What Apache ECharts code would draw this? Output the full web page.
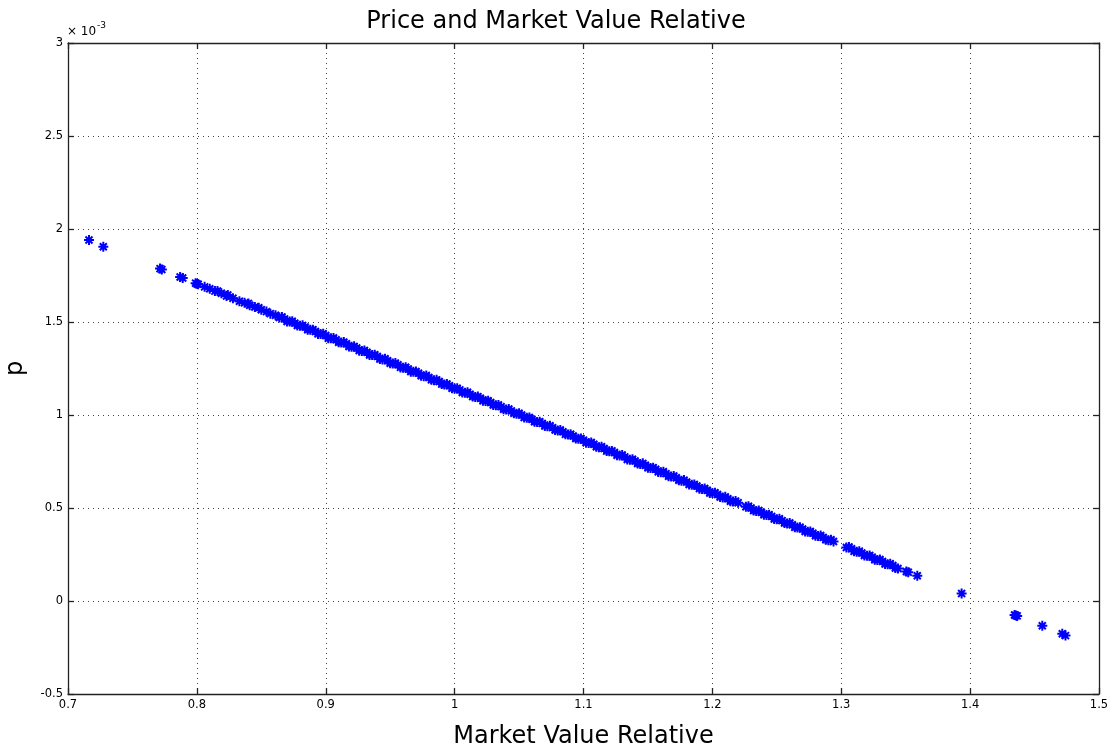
<!DOCTYPE html>
<html>
<head>
<meta charset="utf-8">
<title>Price and Market Value Relative</title>
<script src="https://cdn.jsdelivr.net/npm/echarts@6/dist/echarts.min.js"></script>
<style>
  html, body { margin: 0; padding: 0; background: #fff; }
  #chart { width: 1112px; height: 753px; }
</style>
</head>
<body>
<div id="chart"></div>
<script>
// Market value relative (x) and price p (in units of 1e-3)
const mvr = [
  0.7163, 0.7274, 0.7714, 0.7728, 0.787, 0.789, 0.799, 0.800, 0.801,
  0.806, 0.810, 0.814, 0.819, 0.823, 0.828, 0.833, 0.837, 0.841, 0.845,
  0.850, 0.854, 0.857, 0.861, 0.864, 0.868, 0.872, 0.876, 0.880, 0.884,
  0.888, 0.892, 0.896, 0.900, 0.904, 0.908, 0.912, 0.916, 0.920, 0.924,
  0.928, 0.932, 0.936, 0.940, 0.944, 0.948, 0.952, 0.956, 0.960, 0.964,
  0.968, 0.972, 0.976, 0.980, 0.984, 0.988, 0.992, 0.996, 1.000, 1.004,
  1.008, 1.012, 1.016, 1.020, 1.024, 1.028, 1.032, 1.036, 1.040, 1.044,
  1.048, 1.052, 1.056, 1.060, 1.064, 1.068, 1.072, 1.076, 1.080, 1.084,
  1.088, 1.092, 1.096, 1.100, 1.104, 1.108, 1.112, 1.116, 1.120, 1.124,
  1.128, 1.132, 1.136, 1.140, 1.144, 1.148, 1.152, 1.156, 1.160, 1.164,
  1.168, 1.172, 1.176, 1.180, 1.184, 1.188, 1.192, 1.196, 1.200, 1.204,
  1.208, 1.212, 1.216, 1.220, 1.226, 1.230, 1.234, 1.238, 1.242, 1.246,
  1.250, 1.254, 1.258, 1.262, 1.266, 1.270, 1.274, 1.278, 1.282, 1.286,
  1.290, 1.294, 1.304, 1.308, 1.312, 1.316, 1.320, 1.324, 1.328, 1.332,
  1.336, 1.340, 1.344, 1.3505, 1.352, 1.359,
  1.3934, 1.4345, 1.4355, 1.4365, 1.456, 1.4715, 1.474,
  // further observations inside the dense band
  0.816, 0.824, 0.840, 0.848,
  0.866, 0.870, 0.874, 0.878, 0.882, 0.886, 0.890, 0.894, 0.898, 0.902,
  0.906, 0.910, 0.914, 0.918, 0.922, 0.926, 0.930, 0.934, 0.938, 0.942,
  0.946, 0.950, 0.954, 0.958, 0.962, 0.966, 0.970, 0.974, 0.978, 0.982,
  0.986, 0.990, 0.994, 0.998, 1.002, 1.006, 1.010, 1.014, 1.018, 1.022,
  1.026, 1.030, 1.034, 1.038, 1.042, 1.046, 1.050, 1.054, 1.058, 1.062,
  1.066, 1.070, 1.074, 1.078, 1.082, 1.086, 1.090, 1.094, 1.098, 1.102,
  1.106, 1.110, 1.114, 1.118, 1.122, 1.126, 1.130, 1.134, 1.138, 1.142,
  1.146, 1.150, 1.154, 1.158, 1.162, 1.166, 1.170, 1.174, 1.178, 1.182,
  1.186, 1.190, 1.194, 1.198, 1.202, 1.206, 1.210, 1.214, 1.218,
  1.228, 1.232, 1.236, 1.240, 1.244, 1.248, 1.252, 1.256, 1.260, 1.264,
  1.268, 1.272, 1.276, 1.280, 1.284, 1.288, 1.292,
  1.306, 1.310, 1.314, 1.318, 1.322, 1.326, 1.330, 1.334, 1.338, 1.342
];
const price = [
  1.941, 1.905, 1.787, 1.782, 1.742, 1.737, 1.709, 1.705, 1.703,
  1.689, 1.679, 1.666, 1.655, 1.640, 1.628, 1.612, 1.603, 1.590, 1.581,
  1.566, 1.556, 1.545, 1.536, 1.524, 1.517, 1.503, 1.494, 1.480, 1.473,
  1.458, 1.449, 1.435, 1.427, 1.412, 1.405, 1.390, 1.383, 1.367, 1.360,
  1.344, 1.337, 1.322, 1.315, 1.299, 1.292, 1.277, 1.270, 1.254, 1.247,
  1.232, 1.225, 1.209, 1.202, 1.187, 1.180, 1.164, 1.157, 1.142, 1.135,
  1.120, 1.112, 1.097, 1.090, 1.075, 1.067, 1.052, 1.045, 1.030, 1.022,
  1.007, 1.000, 0.985, 0.977, 0.962, 0.955, 0.940, 0.932, 0.917, 0.910,
  0.895, 0.887, 0.872, 0.865, 0.850, 0.843, 0.827, 0.820, 0.805, 0.798,
  0.782, 0.775, 0.760, 0.753, 0.737, 0.730, 0.715, 0.708, 0.692, 0.685,
  0.670, 0.663, 0.647, 0.640, 0.625, 0.618, 0.602, 0.595, 0.580, 0.573,
  0.557, 0.550, 0.535, 0.528, 0.507, 0.500, 0.484, 0.477, 0.462, 0.455,
  0.439, 0.432, 0.417, 0.410, 0.395, 0.387, 0.372, 0.365, 0.350, 0.342,
  0.327, 0.320, 0.288, 0.281, 0.265, 0.258, 0.243, 0.236, 0.220, 0.213,
  0.198, 0.191, 0.175, 0.159, 0.155, 0.136,
  0.040, -0.075, -0.078, -0.080, -0.133, -0.176, -0.186,
  1.667, 1.645, 1.600, 1.577,
  1.527, 1.503, 1.504, 1.481, 1.482, 1.458, 1.459, 1.436, 1.437, 1.413,
  1.414, 1.391, 1.392, 1.368, 1.369, 1.346, 1.347, 1.323, 1.324, 1.301,
  1.302, 1.278, 1.279, 1.256, 1.257, 1.233, 1.234, 1.211, 1.212, 1.189,
  1.189, 1.166, 1.167, 1.144, 1.144, 1.121, 1.122, 1.099, 1.099, 1.076,
  1.077, 1.054, 1.054, 1.031, 1.032, 1.009, 1.009, 0.986, 0.987, 0.964,
  0.964, 0.941, 0.942, 0.919, 0.919, 0.896, 0.897, 0.874, 0.874, 0.851,
  0.852, 0.829, 0.829, 0.806, 0.807, 0.784, 0.785, 0.761, 0.762, 0.739,
  0.740, 0.716, 0.717, 0.694, 0.695, 0.671, 0.672, 0.649, 0.650, 0.626,
  0.627, 0.604, 0.605, 0.581, 0.582, 0.559, 0.560, 0.536, 0.537,
  0.509, 0.486, 0.487, 0.464, 0.464, 0.441, 0.442, 0.419, 0.419, 0.396,
  0.397, 0.374, 0.374, 0.351, 0.352, 0.329, 0.329,
  0.290, 0.267, 0.268, 0.244, 0.245, 0.222, 0.223, 0.199, 0.200, 0.177
];
const xTicks = [0.7, 0.8, 0.9, 1, 1.1, 1.2, 1.3, 1.4, 1.5];
const yTicks = [-0.5, 0, 0.5, 1, 1.5, 2, 2.5, 3];

const points = mvr.map((x, i) => [x, price[i]]);

// eight-armed asterisk marker, stroked only
const asterisk = 'path://M5,0L5,10M0,5L10,5M1.5,1.5L8.5,8.5M1.5,8.5L8.5,1.5';

const FONT = "'DejaVu Sans', 'Liberation Sans', sans-serif";
const tickFont = { fontFamily: FONT, fontSize: 11.5, color: '#000' };
const gridLine = { show: true, lineStyle: { color: '#444', type: [1, 4], width: 1 } };
const boxLine = { show: true, onZero: false, lineStyle: { color: '#222', width: 1.3 } };
const tickIn = { show: true, inside: true, length: 6, lineStyle: { color: '#222', width: 1.3 } };
const bigText = { fontFamily: FONT, fontSize: 24, color: '#000' };

const chart = echarts.init(document.getElementById('chart'), null, { renderer: 'canvas' });
chart.setOption({
  animation: false,
  backgroundColor: '#fff',
  title: {
    text: 'Price and Market Value Relative',
    left: 'center',
    top: 5,
    textStyle: Object.assign({ fontWeight: 'normal' }, bigText)
  },
  grid: { left: 68, top: 43, right: 13, bottom: 59, containLabel: false, outerBoundsMode: 'none' },
  xAxis: [
    {
      type: 'value', min: xTicks[0], max: xTicks[xTicks.length - 1], interval: 0.1,
      position: 'bottom',
      axisLine: boxLine, axisTick: tickIn, splitLine: gridLine,
      axisLabel: Object.assign({ margin: 5 }, tickFont),
      name: 'Market Value Relative', nameLocation: 'middle', nameGap: 31,
      nameTextStyle: bigText
    },
    {
      type: 'value', min: xTicks[0], max: xTicks[xTicks.length - 1], interval: 0.1,
      position: 'top',
      axisLine: boxLine, axisTick: tickIn, splitLine: { show: false }, axisLabel: { show: false }
    }
  ],
  yAxis: [
    {
      type: 'value', min: yTicks[0], max: yTicks[yTicks.length - 1], interval: 0.5,
      position: 'left',
      axisLine: boxLine, axisTick: tickIn, splitLine: gridLine,
      axisLabel: Object.assign({ margin: 5 }, tickFont),
      name: 'p', nameLocation: 'middle', nameGap: 40, nameRotate: 90,
      nameTextStyle: bigText
    },
    {
      type: 'value', min: yTicks[0], max: yTicks[yTicks.length - 1], interval: 0.5,
      position: 'right',
      axisLine: boxLine, axisTick: tickIn, splitLine: { show: false }, axisLabel: { show: false }
    }
  ],
  graphic: [
    {
      type: 'text', left: 67, top: 26,
      style: { text: '\u00d7 10', fontFamily: FONT, fontSize: 12, fill: '#000' }
    },
    {
      type: 'text', left: 97, top: 21,
      style: { text: '-3', fontFamily: FONT, fontSize: 9, fill: '#000' }
    }
  ],
  series: [
    {
      type: 'scatter',
      data: points,
      symbol: asterisk,
      symbolSize: 10,
      itemStyle: { color: 'rgba(0,0,0,0)', borderColor: '#0000ff', borderWidth: 2, opacity: 1 }
    }
  ]
});
</script>
</body>
</html>
